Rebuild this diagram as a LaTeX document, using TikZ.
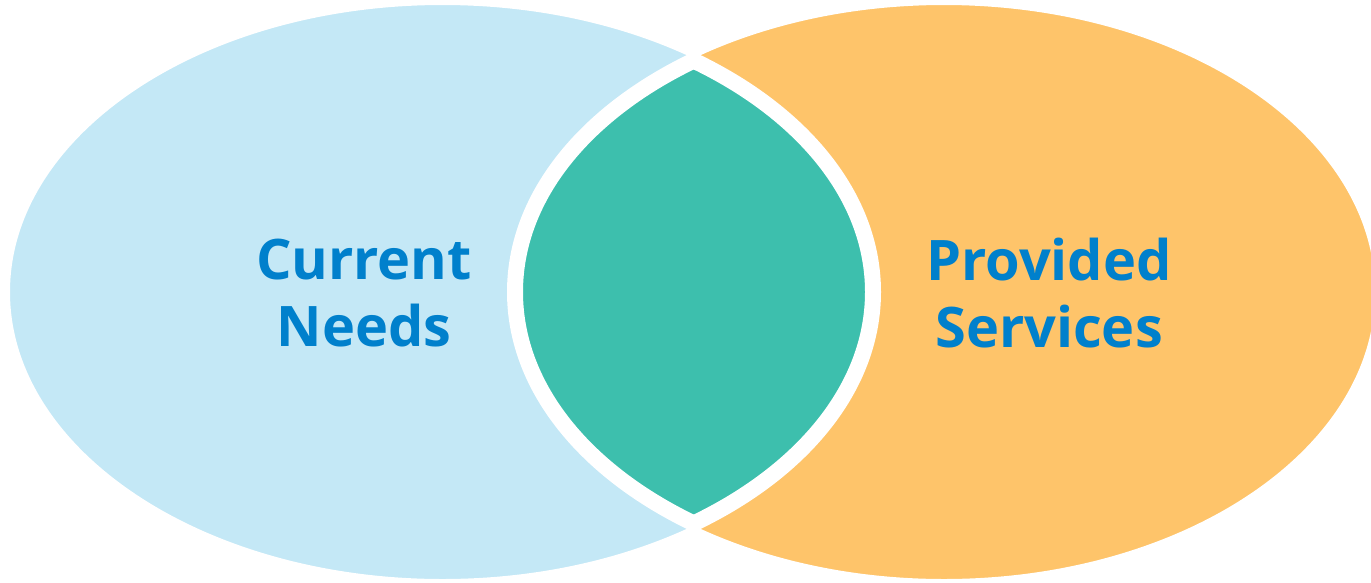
\documentclass[tikz,border=0pt]{standalone}
\usepackage{fontspec}
\setmainfont{Open Sans}
\usepackage{xcolor}
\definecolor{needsblue}{HTML}{C4E8F6}
\definecolor{servorange}{HTML}{FEC46A}
\definecolor{overlapgreen}{HTML}{3DBFAD}
\definecolor{labelblue}{HTML}{0080CC}
\tikzset{
  vlabel/.style={align=center, text=labelblue, font=\bfseries\fontsize{15.9}{19}\selectfont}
}

\begin{document}
\begin{tikzpicture}
\useasboundingbox (0,0) rectangle (13.71,5.82);
% the two sets
\fill[needsblue](4.425,2.90) ellipse (4.355 and 2.90);
\fill[servorange](9.44,2.90) ellipse (4.34 and 2.90);
%
\begin{scope}
\clip(4.425,2.90) ellipse (4.355 and 2.90);
\clip(9.44,2.90) ellipse (4.34 and 2.90);
\fill[overlapgreen](9.44,2.90) ellipse (4.34 and 2.90);
\draw[white, line width=0.26cm](4.425,2.90) ellipse (4.355 and 2.90);
\draw[white, line width=0.26cm](9.44,2.90) ellipse (4.34 and 2.90);
\end{scope}
%
\draw[white, line width=0.06cm](4.425,2.90) ellipse (4.355 and 2.90);
\draw[white, line width=0.06cm](9.44,2.90) ellipse (4.34 and 2.90);
%
\node[vlabel] (needs) at (3.64,2.89) {Current\\Needs};
\node[vlabel] (services) at (10.49,2.89) {Provided\\Services};
\end{tikzpicture}
\end{document}
